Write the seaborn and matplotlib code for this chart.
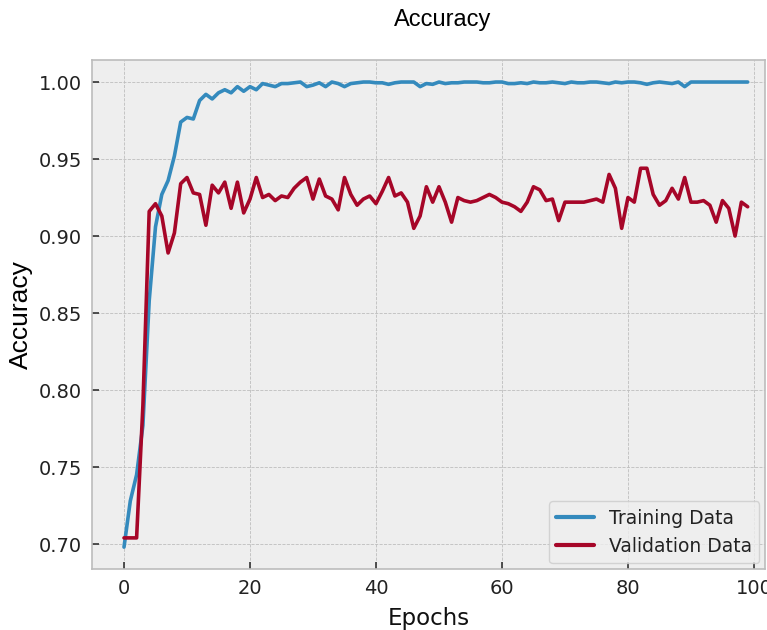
import matplotlib
matplotlib.use("Agg")
import matplotlib.pyplot as plt
import seaborn as sns
import pandas as pd
import numpy as np

epochs = list(range(100))
train_acc = [
    0.698, 0.728, 0.745, 0.777, 0.858, 0.906, 0.927, 0.936, 0.952, 0.974,
    0.977, 0.976, 0.988, 0.992, 0.989, 0.993, 0.995, 0.993, 0.997, 0.994,
    0.997, 0.995, 0.999, 0.998, 0.997, 0.999, 0.999, 0.9995, 1.000, 0.997,
    0.998, 0.9995, 0.997, 1.000, 0.999, 0.997, 0.999, 0.9995, 1.000, 1.000,
    0.9995, 0.9995, 0.9985, 0.9995, 1.000, 1.000, 1.000, 0.997, 0.999, 0.9985,
    1.000, 0.999, 0.9995, 0.9995, 1.000, 1.000, 1.000, 0.9995, 0.9995, 1.000,
    1.000, 0.999, 0.999, 0.9995, 0.999, 1.000, 0.9995, 0.9995, 1.000, 0.9995,
    0.999, 1.000, 0.9995, 0.9995, 1.000, 1.000, 0.9995, 0.999, 1.000, 0.9995,
    1.000, 1.000, 0.9995, 0.9985, 0.9995, 1.000, 0.9995, 0.999, 1.000, 0.997,
    1.000, 1.000, 1.000, 1.000, 1.000, 1.000, 1.000, 1.000, 1.000, 1.000,
]
val_acc = [
    0.704, 0.704, 0.704, 0.790, 0.916, 0.921, 0.913, 0.889, 0.902, 0.934,
    0.938, 0.928, 0.927, 0.907, 0.933, 0.928, 0.935, 0.918, 0.935, 0.915,
    0.924, 0.938, 0.925, 0.927, 0.923, 0.926, 0.925, 0.931, 0.935, 0.938,
    0.924, 0.937, 0.926, 0.924, 0.917, 0.938, 0.927, 0.920, 0.924, 0.926,
    0.921, 0.929, 0.938, 0.926, 0.928, 0.922, 0.905, 0.913, 0.932, 0.922,
    0.932, 0.922, 0.909, 0.925, 0.923, 0.922, 0.923, 0.925, 0.927, 0.925,
    0.922, 0.921, 0.919, 0.916, 0.922, 0.932, 0.930, 0.923, 0.924, 0.910,
    0.922, 0.922, 0.922, 0.922, 0.923, 0.924, 0.922, 0.940, 0.931, 0.905,
    0.925, 0.922, 0.944, 0.944, 0.927, 0.920, 0.923, 0.931, 0.924, 0.938,
    0.922, 0.922, 0.923, 0.920, 0.909, 0.923, 0.918, 0.900, 0.922, 0.919,
]
series_names = ["Training Data", "Validation Data"]
series_colors = ["#348ABD", "#A60628"]
x_ticks = [0, 20, 40, 60, 80, 100]
y_ticks = [0.70, 0.75, 0.80, 0.85, 0.90, 0.95, 1.00]

df = pd.DataFrame({
    "Epochs": epochs * 2,
    "Accuracy": train_acc + val_acc,
    "Series": [series_names[0]] * len(epochs) + [series_names[1]] * len(epochs),
})

sns.set_theme(style="darkgrid")
plt.rcParams.update({
    "font.family": ["DejaVu Sans"],
    "axes.facecolor": "#eeeeee",
    "axes.edgecolor": "#bcbcbc",
    "axes.linewidth": 1.0,
    "grid.color": "#bdbdbd",
    "grid.linestyle": "--",
    "grid.linewidth": 0.6,
})

fig = plt.figure(figsize=(7.67, 6.30), dpi=100)
ax = fig.add_axes([92 / 767, 1 - 569 / 630, (765 - 92) / 767, (569 - 60) / 630])

sns.lineplot(data=df, x="Epochs", y="Accuracy", hue="Series",
             palette=dict(zip(series_names, series_colors)), linewidth=2.6,
             ax=ax)

ax.set_xlim(-5.08, 101.75)
ax.set_ylim(0.6838, 1.0143)
ax.set_xticks(x_ticks)
ax.set_yticks(y_ticks)
ax.set_yticklabels([f"{v:.2f}" for v in y_ticks])
ax.tick_params(axis="both", which="major", direction="in", length=5, width=1.2,
               bottom=True, left=True, labelsize=14, color="#333333",
               labelcolor="#222222")
ax.tick_params(axis="x", pad=7)
ax.tick_params(axis="y", pad=7)
ax.grid(True, linestyle="--", color="#bdbdbd", linewidth=0.6)
for s in ax.spines.values():
    s.set_color("#bcbcbc")
    s.set_linewidth(1.2)

ax.set_xlabel("Epochs", fontsize=16.5, labelpad=7, color="#111111")
ax.set_ylabel("Accuracy", fontsize=19, labelpad=4, color="black",
              family=["Liberation Sans", "DejaVu Sans"])

leg = ax.legend(loc="lower right", fontsize=13.5, frameon=True,
                facecolor="#eeeeee", edgecolor="#cccccc", framealpha=0.8,
                handlelength=2.0, borderaxespad=0.3)
for line in leg.get_lines():
    line.set_linewidth(3)
for t in leg.get_texts():
    t.set_color("#222222")

fig.text(443 / 767, 1 - 20 / 630, "Accuracy", ha="center", va="center",
         fontsize=17, color="black", family=["Liberation Sans", "DejaVu Sans"])

fig.savefig("out.png", dpi=100)
